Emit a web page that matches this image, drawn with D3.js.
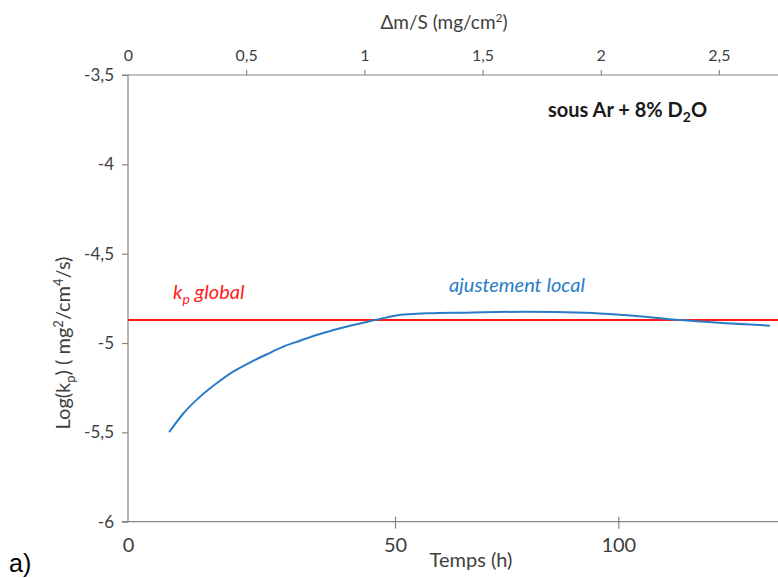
<!DOCTYPE html>
<html><head><meta charset="utf-8">
<script src="https://cdn.jsdelivr.net/npm/d3@7"></script>
<style>
body{margin:0;background:#fff;}
svg{display:block;font-family:Lato,"Open Sans",sans-serif;}
</style></head>
<body><svg id="c" width="778" height="578"></svg>
<script>
// ---- data ----
const timeTicks = [0, 50, 100];
const massTicks = [0, 0.5, 1, 1.5, 2, 2.5];
const logTicks = [-3.5, -4, -4.5, -5, -5.5, -6];
const timeH = [7.7, 10.4, 13.5, 16.6, 19.7, 22.9, 26.0, 29.1, 32.2, 35.3, 38.5, 41.6, 44.7, 47.2, 50.0, 57.2, 65.9, 79.1, 92.6, 101.3, 113.9, 134.1];
const logKpLocal = [-5.499, -5.393, -5.300, -5.225, -5.160, -5.108, -5.063, -5.020, -4.987, -4.955, -4.927, -4.903, -4.882, -4.865, -4.847, -4.834, -4.830, -4.825, -4.830, -4.843, -4.871, -4.903];
const logKpGlobal = -4.871;
const timeDomain = [0, 50, 100, 135.9];
const massDomain = [0, 2.75];
const logDomain = [-6, -3.5];

// ---- layout ----
const L = 128, R = 778, T = 75, B = 521.7;
const svg = d3.select("#c");
const axisCol = "#868686", textCol = "#404040";

const x = d3.scaleLinear().domain(timeDomain).range([L, 395, 618.3, R]);
const xTop = d3.scaleLinear().domain(massDomain).range([L, R]);
const y = d3.scaleLinear().domain(logDomain).range([B, T]);
const fmt = d => String(d).replace(".", ",");

// left axis
const gy = svg.append("g").attr("transform", `translate(${L},0)`)
  .call(d3.axisLeft(y).tickValues(logTicks).tickSize(6).tickPadding(8).tickFormat(fmt));
// top axis
const gt = svg.append("g").attr("transform", `translate(0,${T})`)
  .call(d3.axisTop(xTop).tickValues(massTicks).tickSize(5).tickPadding(9).tickFormat(fmt));
// bottom axis
const gb = svg.append("g").attr("transform", `translate(0,${B})`)
  .call(d3.axisBottom(x).tickValues(timeTicks).tickSize(6).tickPadding(10).tickFormat(fmt));
gb.selectAll(".tick line").attr("y1", -5).attr("y2", 7);
gb.selectAll(".tick").filter(d => d === 0).select("line").remove();
gt.selectAll(".tick").filter(d => d === 0).select("line").remove();

[gy, gt, gb].forEach(g => {
  g.select(".domain").attr("stroke", axisCol).attr("stroke-width", 1.2);
  g.selectAll(".tick line").attr("stroke", axisCol).attr("stroke-width", 1.2);
  g.selectAll(".tick text").attr("fill", textCol).attr("font-family", "Lato, sans-serif");
});
gy.selectAll(".tick text").attr("font-size", 17);
gt.selectAll(".tick text").attr("font-size", 16);
gb.selectAll(".tick text").attr("font-size", 20);
gb.select(".domain").attr("d", `M${L},0H${R}`);
gt.select(".domain").attr("d", `M${L},0H${R}`);
gy.select(".domain").attr("d", `M-6,${y(-6)}H0V${T}H-6`);

// global kp line
svg.append("line").attr("x1", L).attr("x2", R)
  .attr("y1", y(logKpGlobal)).attr("y2", y(logKpGlobal))
  .attr("stroke", "#ff1a1a").attr("stroke-width", 2);

// local fit curve
const pts = timeH.map((t, i) => [t, logKpLocal[i]]);
svg.append("path").datum(pts)
  .attr("fill", "none").attr("stroke", "#2a7cc6").attr("stroke-width", 2)
  .attr("d", d3.line().x(d => x(d[0])).y(d => y(d[1])).curve(d3.curveMonotoneX));

// titles
svg.append("text").attr("x", 444).attr("y", 29).attr("text-anchor", "middle")
  .attr("font-size", 19).attr("fill", textCol)
  .html('Δm/S (mg/cm<tspan dy="-7" font-size="12">2</tspan><tspan dy="7">)</tspan>');
svg.append("text").attr("x", 471).attr("y", 567).attr("text-anchor", "middle")
  .attr("font-size", 20).attr("fill", textCol).text("Temps (h)");
svg.append("text").attr("transform", "translate(70,343) rotate(-90)").attr("text-anchor", "middle")
  .attr("font-size", 20).attr("fill", textCol)
  .html('Log(k<tspan dy="5" font-size="13">p</tspan><tspan dy="-5">)  ( mg</tspan><tspan dy="-7" font-size="13">2</tspan><tspan dy="7">/cm</tspan><tspan dy="-7" font-size="13">4</tspan><tspan dy="7">/s)</tspan>');

// annotations
svg.append("text").attr("x", 548).attr("y", 117).attr("font-size", 20).attr("font-weight", "bold")
  .attr("fill", "#1a1a1a")
  .html('sous Ar + 8% D<tspan dy="5" font-size="14">2</tspan><tspan dy="-5">O</tspan>');
svg.append("text").attr("x", 173).attr("y", 299).attr("font-size", 20).attr("font-style", "italic")
  .attr("fill", "#ff2020")
  .html('k<tspan dy="5" font-size="14">p</tspan><tspan dy="-5"> global</tspan>');
svg.append("text").attr("x", 449).attr("y", 292).attr("font-size", 20).attr("font-style", "italic")
  .attr("fill", "#2a7cc6").text("ajustement local");

svg.append("text").attr("x", 9).attr("y", 572).attr("font-size", 25)
  .attr("font-family", "Liberation Sans, Arial, sans-serif").attr("fill", "#000").text("a)");
</script></body></html>
